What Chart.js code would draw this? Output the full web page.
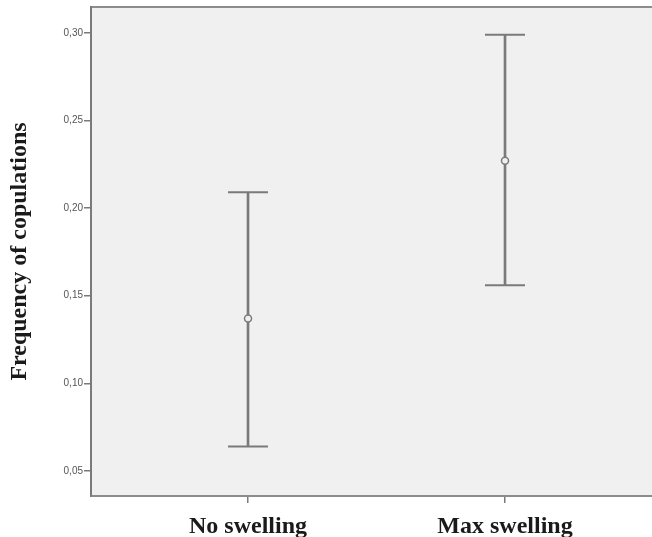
<!DOCTYPE html>
<html>
<head>
<meta charset="utf-8">
<script src="https://cdn.jsdelivr.net/npm/chart.js@4.4.0/dist/chart.umd.min.js"></script>
<style>
  html, body { margin: 0; padding: 0; background: #fff; overflow: hidden; }
  #wrap { width: 652px; height: 537px; position: relative; }
</style>
</head>
<body>
<div id="wrap"><canvas id="cop"></canvas></div>
<script>
// frequency of copulations per group: mean with 95% CI
const groups = ["No swelling", "Max swelling"];
const means = [0.137, 0.227];
const lower = [0.064, 0.156];
const upper = [0.209, 0.299];
const yTicks = [0.05, 0.10, 0.15, 0.20, 0.25, 0.30];

const lineGray = "#7a7a7a";

// grey plot panel with a frame (right edge runs off the canvas)
const panelBg = {
  id: "panelBg",
  beforeDraw(chart) {
    const { ctx, chartArea: a } = chart;
    ctx.save();
    ctx.fillStyle = "#f0f0f0";
    ctx.fillRect(a.left, a.top, a.right - a.left, a.bottom - a.top);
    ctx.strokeStyle = "#8c8c8c";
    ctx.lineWidth = 2;
    ctx.beginPath();
    ctx.moveTo(a.left, a.top);
    ctx.lineTo(a.right + 5, a.top);
    ctx.stroke();
    ctx.restore();
  }
};

function noPad(scale) {
  scale.paddingLeft = 0;
  scale.paddingRight = 0;
  scale.paddingTop = 0;
  scale.paddingBottom = 0;
}

const data = {
  datasets: [
    {
      type: "line",
      label: "mean",
      data: groups.map((g, i) => ({ x: i, y: means[i] })),
      showLine: false,
      pointStyle: "circle",
      pointRadius: 3.5,
      pointBackgroundColor: "#f0f0f0",
      pointBorderColor: lineGray,
      pointBorderWidth: 1.5,
      order: 0
    },
    {
      type: "line",
      label: "upper",
      data: groups.map((g, i) => ({ x: i, y: upper[i] })),
      showLine: false,
      pointStyle: "line",
      pointRadius: 20,
      pointBorderColor: lineGray,
      pointBorderWidth: 2,
      order: 1
    },
    {
      type: "line",
      label: "lower",
      data: groups.map((g, i) => ({ x: i, y: lower[i] })),
      showLine: false,
      pointStyle: "line",
      pointRadius: 20,
      pointBorderColor: lineGray,
      pointBorderWidth: 2,
      order: 1
    },
    {
      type: "bar",
      label: "ci",
      data: groups.map((g, i) => ({ x: i, y: [lower[i], upper[i]] })),
      backgroundColor: lineGray,
      barThickness: 2,
      order: 3
    }
  ]
};

const config = {
  type: "bar",
  data: data,
  plugins: [panelBg],
  options: {
    responsive: true,
    maintainAspectRatio: false,
    animation: false,
    layout: { autoPadding: false, padding: { top: 7, right: 0, left: 0, bottom: 0 } },
    plugins: {
      legend: { display: false },
      tooltip: { enabled: false }
    },
    scales: {
      x: {
        type: "linear",
        offset: false,
        min: -0.611,
        max: 1.572,
        afterBuildTicks: (scale) => {
          scale.ticks = groups.map((g, i) => ({ value: i }));
        },
        afterFit: (scale) => { scale.height = 41; noPad(scale); },
        ticks: {
          callback: (v) => groups[v],
          font: { family: "Liberation Serif", size: 24, weight: "bold" },
          color: "#1a1a1a",
          padding: 9,
          maxRotation: 0
        },
        grid: { offset: false, drawOnChartArea: false, tickLength: 7, color: lineGray, lineWidth: 1.5 },
        border: { color: "#8c8c8c", width: 2 }
      },
      y: {
        min: 0.0357,
        max: 0.3148,
        afterBuildTicks: (scale) => {
          scale.ticks = yTicks.map((v) => ({ value: v }));
        },
        afterFit: (scale) => { scale.width = 91; noPad(scale); },
        ticks: {
          callback: (v) => v.toFixed(2).replace(".", ","),
          font: { family: "Liberation Sans", size: 10 },
          color: "#555",
          padding: 1
        },
        grid: { drawOnChartArea: false, tickLength: 7, color: lineGray, lineWidth: 1.5 },
        border: { color: "#7a7a7a", width: 2 },
        title: {
          display: true,
          text: "Frequency of copulations",
          font: { family: "Liberation Serif", size: 24, weight: "bold" },
          color: "#1a1a1a",
          padding: { top: 5, bottom: 0 }
        }
      }
    }
  }
};

new Chart(document.getElementById("cop").getContext("2d"), config);
</script>
</body>
</html>
